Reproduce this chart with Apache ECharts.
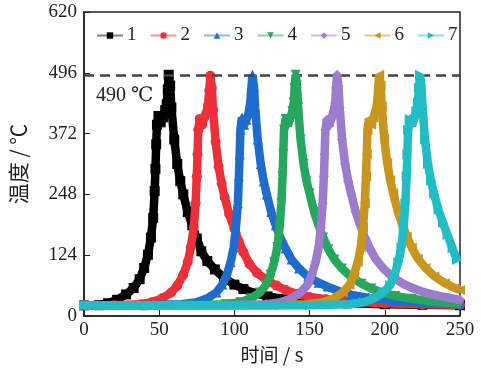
<!DOCTYPE html>
<html>
<head>
<meta charset="utf-8">
<script src="https://cdn.jsdelivr.net/npm/echarts@6/dist/echarts.min.js"></script>
<style>html,body{margin:0;padding:0;background:#fff;}#c{width:481px;height:369px;}</style>
</head>
<body>
<div id="c"></div>
<script>
var seriesNames = ['1','2','3','4','5','6','7'];
var xTicks = [0,50,100,150,200,250];
var yTicks = [0,124,248,372,496,620];
var refTemp = 490;

var s1 = [[0,22],[10,22],[16,26],[22,33],[28,44],[33,57],[37,75],[40,98],[42.5,125],[44.5,160],[46,200],[47,255],[47.5,300],[48,350],[48.5,390],[49.5,408],[51,395],[52.5,405],[54,420],[55,432],[55.7,462],[56.3,492],[57.3,470],[58.1,425],[60,360],[62,310],[64,275],[66,248],[69,212],[72,185],[75,158],[78,132],[82,112],[87,95],[93,78],[100,64],[106,55],[114,46],[122,40],[133,35],[150,29],[175,26],[200,24],[225,23],[250,22]];
var s2 = [[0,22],[20,22],[38,24],[45,28],[52,36],[58,48],[62,62],[66,84],[69,110],[71,140],[73,180],[74.2,230],[75,285],[75.5,330],[76,380],[77,402],[78.5,390],[80,405],[81.5,415],[82.5,430],[83.3,460],[84,490],[85,465],[85.8,420],[87.5,355],[89.5,305],[91.5,270],[93.5,242],[96.5,208],[100,178],[103,152],[106,130],[110,106],[115,88],[121,74],[128,62],[134,53],[142,45],[150,39],[161,34],[178,29],[200,26],[225,24],[250,23]];
var s3 = [[0,22],[40,22],[65,24],[75,28],[82,36],[88,48],[92,64],[95,84],[97.5,110],[99.5,140],[101,180],[102.3,230],[103,285],[103.5,330],[104,380],[105,405],[106.5,390],[108,400],[109.5,415],[110.5,435],[111.3,465],[112,492],[113,468],[113.8,425],[115.5,360],[117.5,310],[119.5,275],[121.5,248],[124.5,212],[127.5,185],[130.5,160],[134,138],[138,115],[143,97],[149,80],[156,68],[162,60],[170,50],[178,43],[189,37],[205,31],[225,28],[250,25]];
var s4 = [[0,22],[70,22],[94,24],[104,28],[111,36],[117,48],[121,63],[124,84],[126.5,110],[128.5,140],[130,180],[131.2,230],[132,285],[132.5,330],[133,380],[134,402],[135.5,388],[137,402],[138.5,418],[139.5,435],[140,465],[140.7,492],[141.6,470],[142.4,425],[144,360],[146,310],[148,275],[150,250],[153,212],[156,185],[159,160],[162.5,136],[166.5,115],[171.5,97],[177.5,80],[184.5,66],[191,56],[199,47],[207,41],[218,35],[233,29],[250,25]];
var s5 = [[0,22],[95,22],[121,24],[131,28],[138,36],[144,48],[148.5,63],[151.5,84],[154,110],[156,140],[157.5,180],[158.7,230],[159.5,285],[160,330],[160.5,380],[161.5,400],[163,388],[164.5,403],[166,418],[167,435],[167.6,465],[168.3,492],[169.2,468],[170,425],[171.6,360],[173.6,310],[175.6,276],[177.6,250],[180.6,213],[183.6,186],[186.6,161],[190,138],[194,116],[199,97],[205,80],[212,66],[218.5,57],[226.5,48],[234.5,42],[243,37],[250,33]];
var s6 = [[0,22],[125,22],[149,24],[159,28],[166,36],[172,48],[176.5,63],[179.5,84],[182,110],[184,140],[185.5,180],[186.7,230],[187.5,285],[188,330],[188.5,380],[189.5,402],[191,390],[192.5,405],[194,420],[195,437],[195.6,465],[196.3,492],[197.2,470],[198,428],[199.6,362],[201.6,312],[203.6,277],[205.6,250],[208.6,214],[211.6,187],[214.6,162],[218,139],[222,117],[227,98],[233,81],[240,67],[246.5,57],[250,53]];
var s7 = [[0,22],[150,22],[176,24],[186,28],[193,36],[199,48],[203.5,63],[206.5,84],[209,110],[211,140],[212.5,180],[213.7,230],[214.5,285],[215,330],[215.5,380],[216.5,402],[218,388],[219.5,402],[221,418],[222,435],[222.7,465],[223.4,492],[224.3,470],[225.1,426],[226.7,360],[228.7,310],[230.7,276],[232.7,250],[235.7,216],[238.7,190],[241.7,165],[245,138],[248,114]];

var allData = [s1,s2,s3,s4,s5,s6,s7];
var colors = ['#000000','#ec3039','#1f6ccc','#27a75e','#9c7ccc','#c8961e','#22bcc4'];
var symbols = ['rect','circle','triangle','triangle','diamond','triangle','triangle'];
var rotates = [0,0,0,180,0,90,-90];

var serif = '"Liberation Serif","DejaVu Serif",serif';
var cjk = '"Noto Sans CJK SC","Noto Sans",sans-serif';

var series = allData.map(function(d,i){
  var s = {
    name: seriesNames[i], type:'line', data:d,
    symbol: symbols[i], symbolRotate: rotates[i], symbolSize: 10,
    showSymbol: true,
    lineStyle:{color:colors[i], width:8.5},
    itemStyle:{color:colors[i]},
    emphasis:{disabled:true},
    z: 2+i
  };
  if(i===0){
    s.markLine = {
      silent:true, symbol:'none', animation:false,
      lineStyle:{color:'#444', type:[10,6], width:2.5},
      label:{show:true, position:'insideStartBottom', formatter:'490 ℃',
        fontFamily:serif, fontSize:20, color:'#222', distance:[12,10]},
      data:[{yAxis:refTemp}]
    };
  }
  return s;
});

var chart = echarts.init(document.getElementById('c'), null, {renderer:'canvas'});
chart.setOption({
  animation:false,
  backgroundColor:'#fff',
  grid:{left:83, right:21, top:12, bottom:51, show:true, borderColor:'#222', borderWidth:1.5},
  legend:{
    data: seriesNames, top:21, left:91, itemWidth:26, itemHeight:8, itemGap:13,
    textStyle:{fontFamily:serif, fontSize:19, color:'#222', padding:[0,0,0,-1]},
    lineStyle:{width:2, opacity:0.5},
    selectedMode:false
  },
  xAxis:{
    type:'value', min:xTicks[0], max:xTicks[xTicks.length-1], interval:50,
    name:'时间 / s', nameLocation:'middle', nameGap:29,
    nameTextStyle:{fontFamily:cjk, fontSize:19, color:'#222'},
    axisLine:{show:true, lineStyle:{color:'#222', width:1.5}},
    axisTick:{show:true, inside:true, length:6, lineStyle:{color:'#222'}},
    axisLabel:{fontFamily:serif, fontSize:19, color:'#222', margin:5},
    splitLine:{show:false}
  },
  yAxis:{
    type:'value', min:yTicks[0], max:yTicks[yTicks.length-1], interval:124,
    name:'温度 / ℃', nameLocation:'middle', nameGap:55, nameRotate:90,
    nameTextStyle:{fontFamily:cjk, fontSize:21, color:'#222'},
    axisLine:{show:true, lineStyle:{color:'#222', width:1.5}},
    axisTick:{show:true, inside:true, length:6, lineStyle:{color:'#222'}},
    axisLabel:{fontFamily:serif, fontSize:19, color:'#222', margin:7},
    splitLine:{show:false}
  },
  series: series
});
</script>
</body>
</html>
